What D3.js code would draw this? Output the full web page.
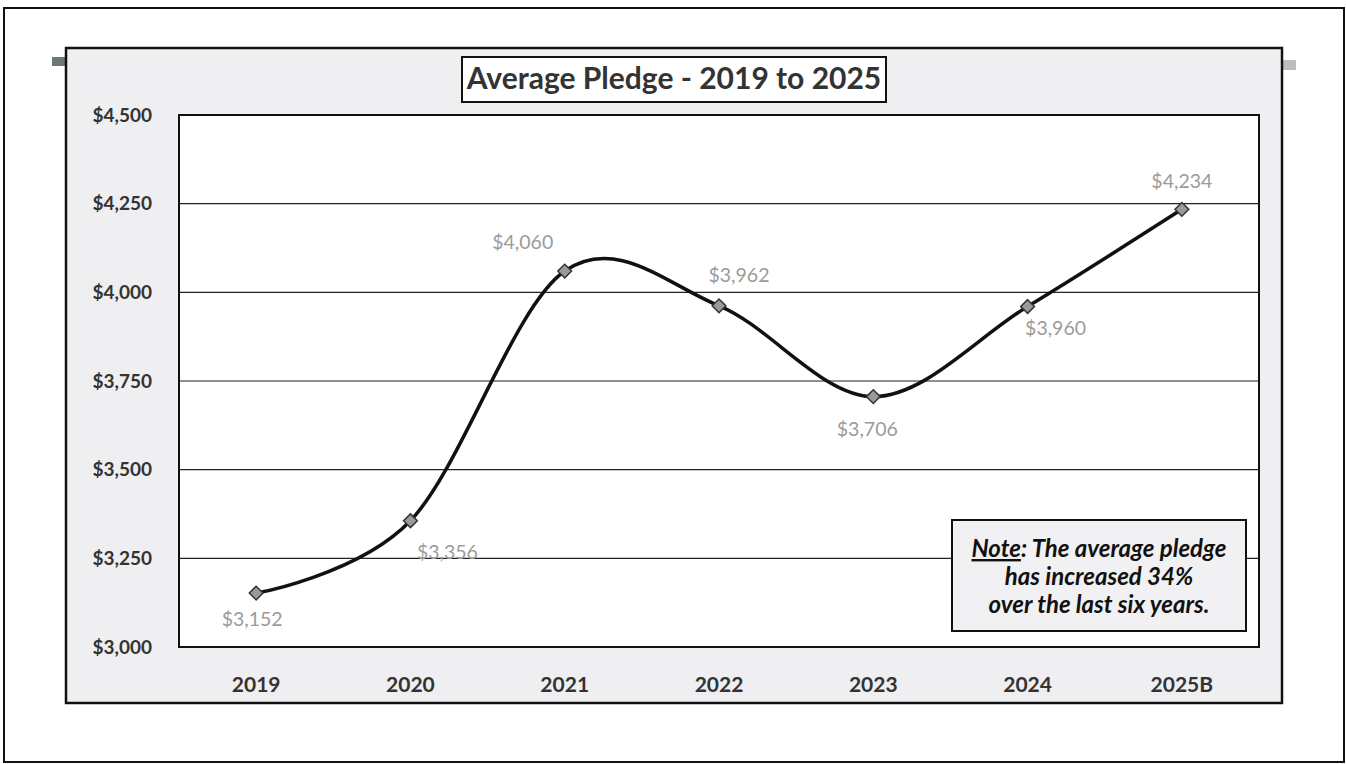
<!DOCTYPE html>
<html>
<head>
<meta charset="utf-8">
<script src="https://cdn.jsdelivr.net/npm/d3@7"></script>
<style>
  body { margin: 0; background: #fff; }
  svg { display: block; }
</style>
</head>
<body>
<svg width="1346" height="764"></svg>
<script>
// chart data
var years = ["2019", "2020", "2021", "2022", "2023", "2024", "2025B"];
var pledges = [3152, 3356, 4060, 3962, 3706, 3960, 4234];
var yTicks = [3000, 3250, 3500, 3750, 4000, 4250, 4500];
var noteLines = ["The average pledge", "has increased 34%", "over the last six years."];

// where each value label sits relative to its point
var labelOffsets = [[-4, 28], [37, 33], [-42, -27], [20, -29], [-6, 34], [28, 24], [0, -26]];

var svg = d3.select("svg");
var font = "Lato, 'Open Sans', sans-serif";

// outer page frame
svg.append("rect")
  .attr("x", 4).attr("y", 8).attr("width", 1340).attr("height", 754)
  .attr("fill", "#fff").attr("stroke", "#111").attr("stroke-width", 2);

// little legend stubs peeking out of the chart box
svg.append("rect").attr("x", 52).attr("y", 57).attr("width", 14).attr("height", 9).attr("fill", "#6d7a74");
svg.append("rect").attr("x", 1283).attr("y", 60).attr("width", 13).attr("height", 10).attr("fill", "#bdbdbd");

// chart area
svg.append("rect")
  .attr("x", 66).attr("y", 48).attr("width", 1216).attr("height", 655)
  .attr("fill", "#efeef1").attr("stroke", "#111").attr("stroke-width", 2.5);

var plot = {left: 179, top: 115, right: 1259, bottom: 647};

var x = d3.scaleBand()
  .domain(years)
  .range([plot.left, plot.right])
  .padding(0);

var y = d3.scaleLinear()
  .domain([3000, 4500])
  .range([plot.bottom, plot.top]);

// plot area
svg.append("rect")
  .attr("x", plot.left).attr("y", plot.top)
  .attr("width", plot.right - plot.left).attr("height", plot.bottom - plot.top)
  .attr("fill", "#fff");

// gridlines
svg.append("g")
  .selectAll("line")
  .data(yTicks.slice(1, -1))
  .enter().append("line")
  .attr("x1", plot.left).attr("x2", plot.right)
  .attr("y1", function(d){ return y(d); })
  .attr("y2", function(d){ return y(d); })
  .attr("stroke", "#222").attr("stroke-width", 1.2);

svg.append("rect")
  .attr("x", plot.left).attr("y", plot.top)
  .attr("width", plot.right - plot.left).attr("height", plot.bottom - plot.top)
  .attr("fill", "none").attr("stroke", "#111").attr("stroke-width", 2);

// y axis
var yAxis = svg.append("g")
  .attr("transform", "translate(" + (plot.left - 27) + ",0)")
  .call(d3.axisLeft(y).tickValues(yTicks).tickSize(0).tickPadding(0)
    .tickFormat(function(d){ return "$" + d3.format(",")(d); }));
yAxis.select(".domain").remove();
yAxis.selectAll("text")
  .attr("font-family", font)
  .attr("font-weight", "bold")
  .attr("font-size", 19)
  .attr("fill", "#333");

// x axis
var xAxis = svg.append("g")
  .attr("transform", "translate(0," + (plot.bottom + 24) + ")")
  .call(d3.axisBottom(x).tickSize(0).tickPadding(6));
xAxis.select(".domain").remove();
xAxis.selectAll("text")
  .attr("font-family", font)
  .attr("font-weight", "bold")
  .attr("font-size", 21)
  .attr("fill", "#333");

// series
var points = years.map(function(yr, i){
  return {year: yr, value: pledges[i], off: labelOffsets[i]};
});

var line = d3.line()
  .x(function(d){ return x(d.year) + x.bandwidth() / 2; })
  .y(function(d){ return y(d.value); })
  .curve(d3.curveCardinal.tension(0));

svg.append("path")
  .datum(points)
  .attr("d", line)
  .attr("fill", "none")
  .attr("stroke", "#111")
  .attr("stroke-width", 3.5);

svg.append("g")
  .selectAll("path")
  .data(points)
  .enter().append("path")
  .attr("d", d3.symbol().type(d3.symbolDiamond2).size(120))
  .attr("transform", function(d){
    return "translate(" + (x(d.year) + x.bandwidth() / 2) + "," + y(d.value) + ")";
  })
  .attr("fill", "#9a9a9a")
  .attr("stroke", "#333")
  .attr("stroke-width", 1.5);

svg.append("g")
  .selectAll("text")
  .data(points)
  .enter().append("text")
  .attr("x", function(d){ return x(d.year) + x.bandwidth() / 2 + d.off[0]; })
  .attr("y", function(d){ return y(d.value) + d.off[1]; })
  .attr("text-anchor", "middle")
  .attr("dominant-baseline", "middle")
  .attr("font-family", font)
  .attr("font-size", 19.5)
  .attr("fill", "#9b9b9b")
  .text(function(d){ return "$" + d3.format(",")(d.value); });

// title
svg.append("rect")
  .attr("x", 462).attr("y", 57).attr("width", 424).attr("height", 45)
  .attr("fill", "#fff").attr("stroke", "#111").attr("stroke-width", 2);
svg.append("text")
  .attr("x", 674).attr("y", 81)
  .attr("text-anchor", "middle")
  .attr("dominant-baseline", "middle")
  .attr("font-family", font)
  .attr("font-weight", "bold")
  .attr("font-size", 30)
  .attr("fill", "#333")
  .text("Average Pledge - 2019 to 2025");

// note box
svg.append("rect")
  .attr("x", 952).attr("y", 520).attr("width", 294).attr("height", 111)
  .attr("fill", "#f1f0f2").attr("stroke", "#111").attr("stroke-width", 2);

var note = svg.append("g")
  .attr("font-family", font)
  .attr("font-weight", "bold")
  .attr("font-style", "italic")
  .attr("font-size", 24)
  .attr("fill", "#111")
  .attr("text-anchor", "middle");

noteLines.forEach(function(t, i){
  var txt = note.append("text")
    .attr("x", 1099)
    .attr("y", 557 + i * 28);
  if (i === 0) {
    txt.append("tspan").attr("text-decoration", "underline").text("Note");
    txt.append("tspan").text(": " + t);
  } else {
    txt.text(t);
  }
});
</script>
</body>
</html>
